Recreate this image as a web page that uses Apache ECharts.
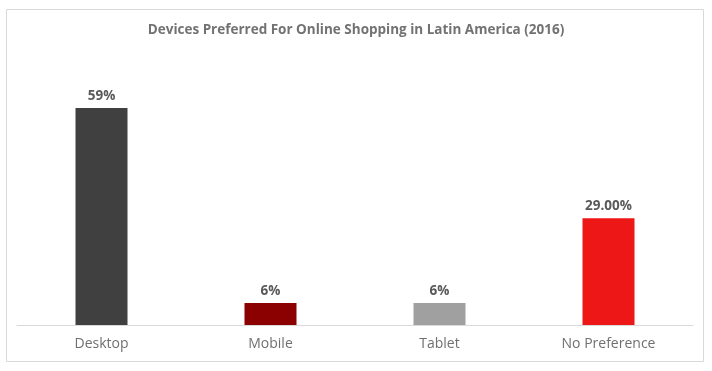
<!DOCTYPE html>
<html><head><meta charset="utf-8">
<script src="https://cdn.jsdelivr.net/npm/echarts@6/dist/echarts.min.js"></script>
<style>html,body{margin:0;padding:0;background:#fff}#c{width:712px;height:371px}</style>
</head><body><div id="c"></div>
<script>
var categories = ['Desktop', 'Mobile', 'Tablet', 'No Preference'];
var values = [59, 6, 6, 29];
var labels = ['59%', '6%', '6%', '29.00%'];
var colors = ['#404040', '#8b0000', '#a0a0a0', '#ed1717'];

var chart = echarts.init(document.getElementById('c'), null, {renderer: 'canvas'});
chart.setOption({
  animation: false,
  backgroundColor: '#fff',
  graphic: [{
    type: 'rect', shape: {x: 6.5, y: 9.5, width: 697, height: 352},
    style: {fill: 'none', stroke: '#d9d9d9', lineWidth: 1}, silent: true, z: -1
  }],
  title: {
    text: 'Devices Preferred For Online Shopping in Latin America (2016)',
    left: 'center', top: 18,
    textStyle: {fontFamily: 'Open Sans', fontSize: 13.5, fontWeight: 'bold', color: '#727272'}
  },
  grid: {left: 17, right: 19, top: 67.4, bottom: 46},
  xAxis: {
    type: 'category', data: categories,
    axisLine: {lineStyle: {color: '#d9d9d9', width: 1}},
    axisTick: {show: false},
    axisLabel: {fontFamily: 'Open Sans', fontSize: 14, color: '#707070', margin: 12}
  },
  yAxis: {type: 'value', min: 0, max: 70, show: false, splitLine: {show: false}},
  series: [{
    type: 'bar', barWidth: 52,
    data: values.map(function (v, i) {
      return {value: v, itemStyle: {color: colors[i]},
        label: {formatter: labels[i]}};
    }),
    label: {show: true, position: 'top', distance: 5,
      fontFamily: 'Open Sans', fontSize: 13.5, fontWeight: 'bold', color: '#595959'}
  }]
});
</script></body></html>
